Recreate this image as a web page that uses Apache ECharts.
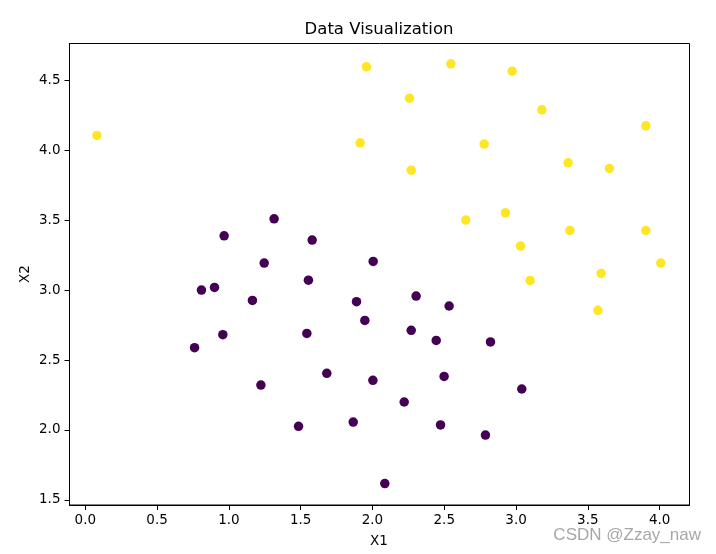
<!DOCTYPE html>
<html>
<head>
<meta charset="utf-8">
<script src="https://cdn.jsdelivr.net/npm/echarts@6/dist/echarts.min.js"></script>
<style>html,body{margin:0;padding:0;background:#fff}#c{width:716px;height:554px}</style>
</head>
<body>
<div id="c"></div>
<script>
const classOneX = [0.081, 1.958, 1.914, 2.546, 2.973, 2.258, 3.180, 3.904, 2.778, 3.363, 3.650, 2.270, 2.650, 2.926, 3.375, 3.904, 3.031, 4.008, 3.593, 3.098, 3.570];
const classOneY = [4.105, 4.595, 4.052, 4.617, 4.564, 4.371, 4.288, 4.174, 4.043, 3.909, 3.869, 3.857, 3.500, 3.552, 3.426, 3.426, 3.314, 3.193, 3.119, 3.069, 2.855];
const classZeroX = [1.315, 0.967, 1.580, 1.246, 2.005, 1.554, 0.809, 0.900, 1.164, 1.889, 1.947, 0.958, 1.543, 0.761, 1.682, 2.003, 1.223, 1.485, 1.866, 2.086, 2.304, 2.534, 2.270, 2.444, 2.822, 2.499, 3.040, 2.221, 2.474, 2.787];
const classZeroY = [3.509, 3.388, 3.357, 3.193, 3.205, 3.071, 3.000, 3.019, 2.926, 2.917, 2.783, 2.681, 2.690, 2.588, 2.405, 2.355, 2.321, 2.026, 2.057, 1.617, 2.957, 2.886, 2.712, 2.640, 2.629, 2.383, 2.293, 2.200, 2.036, 1.964];
const xTicks = [0.0, 0.5, 1.0, 1.5, 2.0, 2.5, 3.0, 3.5, 4.0];
const yTicks = [1.5, 2.0, 2.5, 3.0, 3.5, 4.0, 4.5];
const titleText = 'Data Visualization';
const xName = 'X1';
const yName = 'X2';
const watermark = 'CSDN @Zzay_naw';

const pair = (xs, ys) => xs.map((x, i) => [x, ys[i]]);
const font = 'DejaVu Sans';
const chart = echarts.init(document.getElementById('c'), null, {renderer: 'canvas'});
const gridL = 69.5, gridR = 26.5, gridT = 43.5, gridB = 49;
chart.setOption({
  animation: false,
  backgroundColor: '#fff',
  grid: {left: gridL, right: gridR, top: gridT, bottom: gridB, show: true, borderColor: '#000', borderWidth: 1, backgroundColor: 'transparent'},
  xAxis: {
    type: 'value', min: -0.110, max: 4.208,
    splitLine: {show: false},
    axisLine: {show: true, onZero: false, lineStyle: {color: '#000', width: 1}},
    axisTick: {show: true, length: 5, customValues: xTicks, lineStyle: {color: '#000'}},
    axisLabel: {customValues: xTicks, margin: 8, color: '#000', fontFamily: font, fontSize: 13.5, formatter: v => v.toFixed(1)}
  },
  yAxis: {
    type: 'value', min: 1.464, max: 4.762,
    splitLine: {show: false},
    axisLine: {show: true, onZero: false, lineStyle: {color: '#000', width: 1}},
    axisTick: {show: true, length: 5, customValues: yTicks, lineStyle: {color: '#000'}},
    axisLabel: {customValues: yTicks, margin: 9, color: '#000', fontFamily: font, fontSize: 13.5, formatter: v => v.toFixed(1)}
  },
  series: [
    {type: 'scatter', data: pair(classZeroX, classZeroY), symbolSize: 9.5, itemStyle: {color: '#440154', opacity: 1}},
    {type: 'scatter', data: pair(classOneX, classOneY), symbolSize: 9.5, itemStyle: {color: '#fde725', opacity: 1}}
  ],
  graphic: [
    {type: 'text', x: 379, y: 29.5, style: {text: titleText, fill: '#000', font: '16.5px "DejaVu Sans"', textAlign: 'center', textVerticalAlign: 'middle'}},
    {type: 'text', x: 379, y: 541, style: {text: xName, fill: '#000', font: '13.5px "DejaVu Sans"', textAlign: 'center', textVerticalAlign: 'middle'}},
    {type: 'text', x: 25, y: 274, rotation: Math.PI / 2, style: {text: yName, fill: '#000', font: '13.5px "DejaVu Sans"', textAlign: 'center', textVerticalAlign: 'middle'}},
    {type: 'text', x: 701, y: 535.5, style: {text: watermark, fill: 'rgba(150,150,150,0.85)', font: '17px "Liberation Sans"', textAlign: 'right', textVerticalAlign: 'middle'}}
  ]
});
</script>
</body>
</html>
